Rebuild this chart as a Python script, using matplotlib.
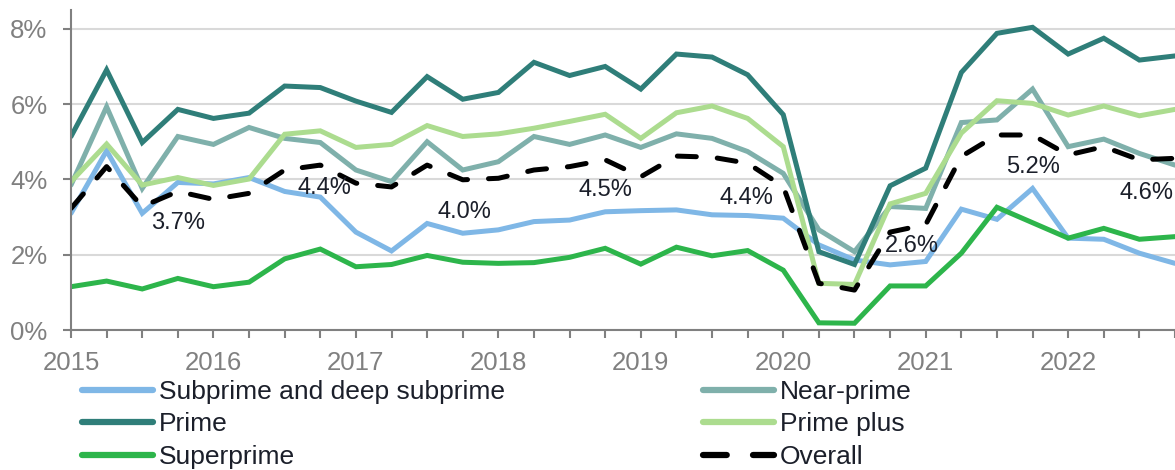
import matplotlib
matplotlib.use("Agg")
import matplotlib.pyplot as plt
import numpy as np

plt.rcParams['font.family'] = ['Liberation Sans', 'DejaVu Sans']

quarters = [2015 + 0.25 * i for i in range(32)]

subprime = [3.10, 4.76, 3.10, 3.92, 3.88, 4.05, 3.68, 3.53, 2.60, 2.10,
            2.83, 2.57, 2.66, 2.88, 2.92, 3.14, 3.17, 3.19, 3.06, 3.04,
            2.97, 2.26, 1.86, 1.73, 1.82, 3.21, 2.94, 3.76, 2.44, 2.41, 2.04, 1.77]
near_prime = [3.85, 5.93, 3.76, 5.14, 4.93, 5.38, 5.09, 4.98, 4.25, 3.94,
              5.00, 4.25, 4.47, 5.14, 4.93, 5.18, 4.85, 5.21, 5.09, 4.74,
              4.16, 2.66, 2.08, 3.28, 3.23, 5.51, 5.58, 6.40, 4.87, 5.07, 4.69, 4.38]
prime = [5.14, 6.91, 4.98, 5.86, 5.62, 5.76, 6.48, 6.44, 6.08, 5.78,
         6.73, 6.13, 6.31, 7.11, 6.76, 7.00, 6.40, 7.33, 7.25, 6.78,
         5.72, 2.08, 1.74, 3.83, 4.30, 6.84, 7.88, 8.04, 7.33, 7.75, 7.17, 7.28]
prime_plus = [3.94, 4.94, 3.85, 4.05, 3.84, 4.01, 5.20, 5.29, 4.85, 4.93,
              5.43, 5.14, 5.21, 5.36, 5.54, 5.73, 5.09, 5.77, 5.95, 5.62,
              4.87, 1.24, 1.21, 3.35, 3.63, 5.23, 6.09, 6.02, 5.71, 5.95, 5.69, 5.86]
superprime = [1.15, 1.30, 1.09, 1.37, 1.15, 1.27, 1.89, 2.15, 1.68, 1.74,
              1.98, 1.80, 1.77, 1.79, 1.93, 2.17, 1.75, 2.20, 1.97, 2.11,
              1.59, 0.19, 0.18, 1.17, 1.17, 2.04, 3.26, 2.85, 2.44, 2.70, 2.41, 2.48]
overall = [3.23, 4.34, 3.28, 3.68, 3.47, 3.63, 4.25, 4.38, 3.90, 3.80,
           4.38, 3.99, 4.03, 4.25, 4.34, 4.52, 4.07, 4.62, 4.59, 4.43,
           3.81, 1.24, 1.06, 2.60, 2.80, 4.61, 5.18, 5.18, 4.65, 4.87, 4.52, 4.56]

label_texts = ["3.7%", "4.4%", "4.0%", "4.5%", "4.4%", "2.6%", "5.2%", "4.6%"]
label_x = [2015.75, 2016.78, 2017.76, 2018.75, 2019.74, 2020.9, 2021.75, 2022.74]
label_y = [2.84, 3.77, 3.14, 3.72, 3.51, 2.23, 4.33, 3.64]
label_ha = ["center"] * 7 + ["right"]

year_ticks = list(range(2015, 2023))
y_ticks = [0, 2, 4, 6, 8]

fig = plt.figure(figsize=(11.75, 4.7), dpi=100)
ax = fig.add_axes([71/1175, 140/470, 1104/1175, 320/470])

lw = 3.6
series = [
    ("Subprime and deep subprime", subprime, "#7fb7e6"),
    ("Near-prime", near_prime, "#7fb0ab"),
    ("Prime", prime, "#2f7e79"),
    ("Prime plus", prime_plus, "#acdc8f"),
    ("Superprime", superprime, "#2db54b"),
]
handles = {}
for name, vals, col in series:
    h, = ax.plot(quarters, vals, color=col, lw=lw, solid_capstyle='round',
                 solid_joinstyle='miter', label=name)
    handles[name] = h
h, = ax.plot(quarters, overall, color="black", lw=lw, ls=(0, (3.8, 4.2)),
             dash_capstyle='round', label="Overall")
handles["Overall"] = h

for t, x, y, ha in zip(label_texts, label_x, label_y, label_ha):
    ax.text(x, y, t, ha=ha, va='center', fontsize=17, color='#1b1f2a')

ax.set_xlim(2015, 2022.75)
ax.set_ylim(0, 8.5)
ax.set_yticks(y_ticks)
ax.set_yticklabels([f"{v}%" for v in y_ticks])
ax.set_xticks(year_ticks)
ax.set_xticklabels([str(y) for y in year_ticks])
ax.set_xticks(quarters, minor=True)
ax.tick_params(axis='both', which='both', colors='#808080', labelsize=18.5,
               length=6, width=1.5, direction='out')
ax.tick_params(axis='x', which='major', pad=9)
ax.tick_params(axis='y', pad=11)
ax.grid(axis='y', color='#d9d9d9', lw=1.5)
ax.set_axisbelow(True)
for s in ['top', 'right']:
    ax.spines[s].set_visible(False)
for s in ['left', 'bottom']:
    ax.spines[s].set_color('#808080')
    ax.spines[s].set_linewidth(1.5)

leg_kw = dict(loc='upper left', frameon=False, fontsize=19, handlelength=2.69,
              handletextpad=0.23, labelspacing=0.32, borderaxespad=0, borderpad=0)
cols = [["Subprime and deep subprime", "Prime", "Superprime"],
        ["Near-prime", "Prime plus", "Overall"]]
xs = [82, 703]
for names, x0 in zip(cols, xs):
    leg = fig.legend([handles[n] for n in names], names,
                     bbox_to_anchor=(x0/1175, 1 - 380/470), **leg_kw)
    for t in leg.get_texts():
        t.set_color('#1b1f2a')
    for l in leg.get_lines():
        l.set_linewidth(4.5)

fig.savefig("out.png", dpi=100)
